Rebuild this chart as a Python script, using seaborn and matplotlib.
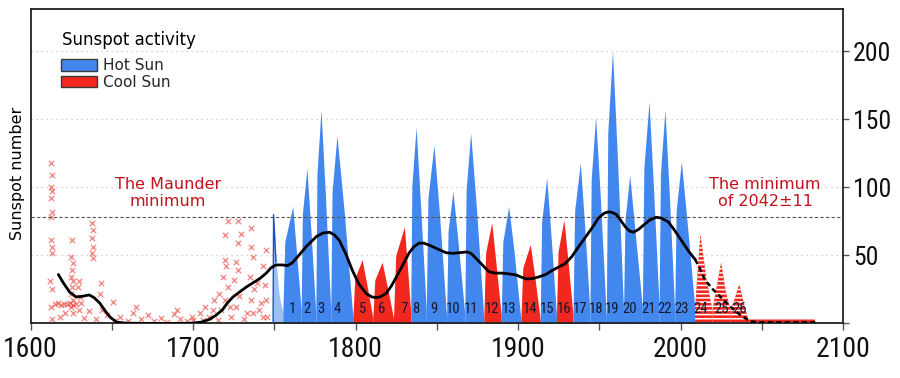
import matplotlib
matplotlib.use("Agg")
import matplotlib.pyplot as plt
import seaborn as sns
from matplotlib.patches import Patch
from matplotlib import font_manager
from matplotlib.font_manager import FontProperties

# ---------------- data ----------------
cycle_numbers = list(range(1, 27))
cycle_kind = (["hot"] * 4 + ["cool"] * 3 + ["hot"] * 4 + ["cool", "hot", "cool", "hot", "cool"]
              + ["hot"] * 7 + ["forecast"] * 3)
cycle_start_year = [1755.2, 1766.5, 1775.5, 1784.7, 1798.3, 1810.6, 1823.3, 1833.9, 1843.5,
                    1856.0, 1867.2, 1878.9, 1889.6, 1901.7, 1913.6, 1923.6, 1933.8, 1944.2,
                    1954.3, 1964.9, 1976.5, 1986.8, 1996.4, 2008.9, 2019.6, 2030.8]
cycle_start_value = [8, 10, 7, 10, 5, 4, 4, 8, 10, 5, 7, 4, 6, 3, 3, 6, 6, 9, 5, 10, 12, 13,
                     9, 10, 10, 10]
cycle_end_year = [1766.5, 1775.5, 1784.7, 1798.3, 1810.6, 1823.3, 1833.9, 1843.5, 1856.0,
                  1867.2, 1878.9, 1889.6, 1901.7, 1913.6, 1923.6, 1933.8, 1944.2, 1954.3,
                  1964.9, 1976.5, 1986.8, 1996.4, 2008.9, 2019.6, 2030.8, 2041.5]
cycle_end_value = [10, 7, 10, 5, 4, 4, 8, 10, 5, 7, 4, 6, 3, 3, 6, 6, 9, 5, 10, 12, 13, 9,
                   10, 10, 10, 4]
cycle_rise_year = [1756.4, 1767.2, 1776.2, 1785.5, 1799.5, 1811.8, 1824.7, 1834.6, 1844.5,
                   1856.9, 1868.0, 1880.0, 1890.6, 1902.9, 1914.5, 1924.6, 1934.8, 1945.0,
                   1955.2, 1965.8, 1977.4, 1987.6, 1997.3, 2010.5, 2022.2, 2033.5]
cycle_rise_value = [60, 80, 110, 97, 33, 32, 50, 101, 92, 68, 98, 52, 60, 41, 75, 53, 83, 106,
                    140, 76, 114, 110, 83, 38, 27, 19]
cycle_peak_year = [1761.3, 1770.0, 1778.7, 1788.5, 1804.0, 1816.3, 1830.0, 1837.2, 1848.2,
                   1859.9, 1870.8, 1883.8, 1894.2, 1907.5, 1917.6, 1928.2, 1938.3, 1947.7,
                   1958.1, 1968.7, 1980.6, 1990.4, 2000.5, 2012.2, 2025.0, 2036.2]
cycle_peak_value = [86, 114, 157, 138, 47, 45, 71, 144, 131, 97, 140, 74, 86, 58, 107, 76,
                    118, 152, 200, 109, 163, 157, 119, 66, 45, 29]
cycle_fall_year = [1763.6, 1772.5, 1781.4, 1792.9, 1807.0, 1819.5, 1831.8, 1840.0, 1851.7,
                   1863.2, 1874.4, 1886.4, 1897.6, 1910.2, 1920.3, 1930.7, 1941.0, 1950.7,
                   1961.2, 1972.2, 1983.4, 1993.1, 2004.3, 2015.9, 2027.9, 2038.9]
cycle_fall_value = [52, 68, 94, 83, 28, 27, 43, 86, 79, 58, 84, 44, 52, 35, 64, 46, 71, 91,
                    120, 65, 98, 94, 71, 33, 23, 15]

# partial cycle before no. 1 and the forecast tail
cycle0_years = [1749.2, 1749.5, 1751.0, 1753.0, 1755.2]
cycle0_values = [0, 80, 45, 20, 8]
tail_years = [2041.5, 2083.0]
tail_values = [4, 4]

# smoothed activity curve
smooth_years = [1617, 1620, 1624, 1628, 1632, 1636, 1639, 1642.5, 1646, 1649, 1653, 1658, 1670,
                1690, 1700, 1705, 1710, 1714, 1718, 1721, 1724.5, 1729, 1733, 1737, 1741, 1745,
                1748, 1751, 1755, 1758, 1761, 1765, 1770, 1776, 1780, 1784, 1787, 1790, 1794,
                1798, 1802, 1806.5, 1810, 1812.6, 1815, 1818.7, 1822, 1825, 1829, 1833, 1836,
                1839, 1842, 1845, 1850, 1855.6, 1860, 1864, 1868.6, 1871, 1874, 1878, 1882, 1886,
                1890, 1894, 1898.7, 1902, 1905.3, 1909, 1912.7, 1917, 1921, 1925, 1929, 1933,
                1937, 1941.6, 1946, 1949.6, 1953, 1955.7, 1958, 1960.6, 1963, 1966, 1968.5, 1971,
                1974, 1977, 1981, 1985, 1988, 1992.5, 1996, 2000.5, 2005, 2009]
smooth_values = [36, 30, 23, 19.5, 20, 21, 19, 15, 9, 4.5, 1, 0.3, 0, 0, 0.3, 1, 3, 6, 10, 15,
                 19.5, 23.5, 27, 30, 33, 37, 41, 43, 43, 42.5, 44.5, 50, 57, 64, 66.5, 67, 65,
                 61, 51, 39, 29, 22, 19.5, 19, 19.5, 22, 27.5, 34, 43, 52, 56.5, 59, 59, 57.7,
                 55, 52, 51.5, 52, 52.6, 51.5, 48, 43, 38, 37, 37, 36.5, 35.7, 34, 32.7, 33,
                 34.2, 36, 39, 41.5, 44, 49, 56, 63.6, 71, 77.6, 81, 82, 81.5, 80, 76, 71, 68,
                 67, 69, 72, 76, 78, 77.5, 74.6, 69, 61, 53, 47]
forecast_years = [2009, 2012, 2015, 2020, 2025, 2031, 2037, 2043, 2050, 2083]
forecast_values = [47, 40, 32, 25, 19, 12, 6, 1.5, 0.8, 0.8]

# early naked-eye / telescopic observations (crosses)
cross_years = [
    1612.5, 1613.0, 1612.8, 1613.3, 1612.6, 1613.1, 1612.7, 1612.4, 1613.2, 1612.9, 1612.0,
    1613.4, 1612.6, 1613.0,
    1625.4, 1625.0, 1625.8, 1625.2, 1624.8, 1626.0, 1625.5, 1624.6, 1625.9, 1625.1, 1626.3,
    1630.0, 1629.4, 1630.6, 1631.2, 1629.8,
    1638.0, 1638.4, 1637.7, 1638.2, 1637.9, 1638.5,
    1643.0, 1642.4, 1643.6,
    1615.0, 1616.8, 1618.6, 1620.5, 1622.3, 1624.1, 1626.0, 1627.8,
    1618.0, 1621.0, 1633.0, 1636.0, 1640.0, 1647.0, 1650.5, 1651.0,
    1655, 1660, 1663, 1665, 1668, 1672, 1676, 1680, 1684, 1688, 1690, 1692, 1696, 1699,
    1700, 1704, 1706, 1707, 1710, 1712, 1713, 1715, 1716.2, 1717.3, 1718.3, 1719.3, 1719.3,
    1719.3, 1720.3, 1721.3, 1721.3, 1722.4, 1725.4, 1726.5, 1726.5, 1727.5, 1727.5, 1727.5,
    1728.5, 1729.6, 1734.7, 1735.7, 1735.7, 1735.7, 1736.7, 1736.7, 1737.7, 1740.8, 1741.8,
    1742.8, 1742.8, 1745, 1745, 1745.6, 1723.5, 1731, 1733, 1739, 1744]
cross_values = [
    118, 109, 100, 97, 92, 82, 78, 61, 56, 52, 31, 25, 12, 3,
    61, 49, 44.5, 39, 34, 31, 27, 22, 17, 12, 8,
    31, 27, 19.5, 15, 10,
    74, 69, 63, 56, 52, 48,
    30, 22, 10,
    14, 15, 13.5, 14.5, 14, 15, 13.5, 14.5,
    5, 8, 4, 9, 3, 6, 16, 2,
    5, 2, 8, 12, 3, 6, 2, 4, 1, 7, 10, 3, 2, 5,
    2.6, 7.5, 2.6, 12, 5, 10, 17, 2.6, 22, 10, 34, 17, 46.7,
    65, 42, 27, 75, 12, 32, 45, 12, 39, 59, 75,
    20, 66, 34, 56, 70, 17, 49, 7.5, 25, 10, 15,
    5, 42, 54, 17, 5, 5, 3, 8, 30, 28]

# ---------------- style ----------------
sns.set_theme(style="white")
plt.rcParams["font.family"] = ["DejaVu Sans"]
plt.rcParams["hatch.linewidth"] = 1.1


def find_narrow_font():
    entries = font_manager.fontManager.ttflist
    for want in ["Liberation Sans Narrow", "Arial Narrow", "Roboto Condensed",
                 "Open Sans Condensed", "Noto Sans Condensed"]:
        for f in entries:
            if f.name == want and f.weight in (400, "normal", "regular") and f.style == "normal":
                return FontProperties(fname=f.fname)
    for fam in ["Liberation Sans", "Noto Sans", "Open Sans", "Roboto", "DejaVu Sans"]:
        for f in entries:
            if (f.name == fam and f.stretch in ("condensed", "semi-condensed", "extra-condensed")
                    and f.style == "normal" and f.weight in (400, "normal", "regular")):
                return FontProperties(fname=f.fname)
    for f in entries:
        n = f.fname.lower()
        if ("condensed" in n or "narrow" in n) and "bold" not in n and "italic" not in n \
                and "light" not in n and "oblique" not in n and "semibold" not in n \
                and "medium" not in n and "thin" not in n and "black" not in n:
            return FontProperties(fname=f.fname)
    return None


NARROW_FP = find_narrow_font()
HAVE_NARROW = NARROW_FP is not None
if NARROW_FP is None:
    NARROW_FP = FontProperties(family="Liberation Sans")

BLUE = "#4287ee"
RED = "#f2281e"
LIGHT_BLUE = "#9cc0f4"
CROSS = "#e8342a"
TXT_RED = "#c4121c"

fig = plt.figure(figsize=(9, 3.78), dpi=100)
ax = fig.add_axes([0.0341, 0.1442, 0.9026, 0.832])
ax.set_xlim(1600, 2100)
ax.set_ylim(0, 231)

# grid lines and reference level
for v in [50, 100, 150, 200]:
    ax.axhline(v, color="#c9c9c9", lw=0.9, ls=(0, (1, 3)), zorder=0)
ax.axhline(78, color="#555555", lw=0.8, ls=(0, (3, 2)), zorder=4)

# crosses
sns.scatterplot(x=cross_years, y=cross_values, marker="x", color=CROSS, s=15,
                linewidth=1.0, alpha=0.55, ax=ax, zorder=2)

# partial cycle 0
ax.fill_between(cycle0_years, cycle0_values, 0, color=LIGHT_BLUE, lw=0, zorder=2)
sns.lineplot(x=cycle0_years[:3], y=cycle0_values[:3], color="#1f4fc8", lw=1.0,
             sort=False, estimator=None, ax=ax, zorder=3)

# cycles
for i in range(len(cycle_numbers)):
    xs = [cycle_start_year[i], cycle_rise_year[i], cycle_peak_year[i],
          cycle_fall_year[i], cycle_end_year[i]]
    ys = [cycle_start_value[i], cycle_rise_value[i], cycle_peak_value[i],
          cycle_fall_value[i], cycle_end_value[i]]
    kind = cycle_kind[i]
    if kind == "hot":
        ax.fill_between(xs, ys, 0, color=BLUE, lw=0, zorder=2)
    elif kind == "cool":
        ax.fill_between(xs, ys, 0, color=RED, lw=0, zorder=2)
    else:
        ax.fill_between(xs, ys, 0, facecolor=RED, edgecolor="white", hatch="----",
                        lw=0, zorder=2)
ax.fill_between(tail_years, tail_values, 0, facecolor=RED, edgecolor="white",
                hatch="----", lw=0, zorder=2)

# cycle numbers
num_fp = NARROW_FP.copy()
num_fp.set_size(10.5 if HAVE_NARROW else 8)
for i, n in enumerate(cycle_numbers):
    ax.text(cycle_peak_year[i], 10.5, str(n), ha="center", va="center", fontproperties=num_fp,
            color="#101a33", zorder=5)

# smoothed curve + forecast
sns.lineplot(x=smooth_years, y=smooth_values, color="black", lw=2.0, sort=False,
             estimator=None, ax=ax, zorder=6)
sns.lineplot(x=forecast_years, y=forecast_values, color="black", lw=1.8, sort=False,
             estimator=None, ax=ax, zorder=6, linestyle=(0, (2, 1.4)))

# annotations
ax.text(0.169, 0.415, "The Maunder\nminimum", transform=ax.transAxes, ha="center",
        va="center", fontsize=11.5, color=TXT_RED, linespacing=1.15)
ax.text(0.904, 0.415, "The minimum\nof 2042\u00b111", transform=ax.transAxes, ha="center",
        va="center", fontsize=11.5, color=TXT_RED, linespacing=1.15)

# legend
ax.text(0.0385, 0.901, "Sunspot activity", transform=ax.transAxes, ha="left", va="center",
        fontsize=12, color="black")
handles = [Patch(facecolor=BLUE, edgecolor="#3a3a3a", lw=1.0, label="Hot Sun"),
           Patch(facecolor=RED, edgecolor="#3a3a3a", lw=1.0, label="Cool Sun")]
ax.legend(handles=handles, loc="upper left", bbox_to_anchor=(0.0373, 0.843), frameon=False,
          fontsize=11, handlelength=2.35, handleheight=0.78, handletextpad=0.4,
          labelspacing=0.1, borderpad=0, borderaxespad=0)

# axes, ticks
for s in ax.spines.values():
    s.set_color("#222222")
    s.set_linewidth(1.3)
    s.set_visible(True)

ytick_fp = NARROW_FP.copy()
ytick_fp.set_size(18.5 if HAVE_NARROW else 15)
xtick_fp = NARROW_FP.copy()
xtick_fp.set_size(20 if HAVE_NARROW else 15)

ax.yaxis.tick_right()
ax.set_yticks([0, 50, 100, 150, 200])
ax.set_yticklabels(["", "50", "100", "150", "200"], fontproperties=ytick_fp, color="#111111")
ax.set_xticks([1600, 1700, 1800, 1900, 2000, 2100])
ax.set_xticklabels(["1600", "1700", "1800", "1900", "2000", "2100"], fontproperties=xtick_fp,
                   color="#111111")
ax.set_xticks([1650, 1750, 1850, 1950, 2050], minor=True)
ax.tick_params(axis="x", which="both", direction="out", length=5, width=1, color="#555555",
               pad=4, bottom=True)
ax.tick_params(axis="y", which="both", direction="out", length=4, width=1, color="#555555",
               pad=3, right=True, left=False)
ax.grid(False)

ax.yaxis.set_label_position("left")
ax.set_ylabel("Sunspot number", fontsize=11.5, color="black")
ax.yaxis.set_label_coords(-0.007, 0.4785)
ax.set_xlabel("")

fig.savefig("out.png", dpi=100)
